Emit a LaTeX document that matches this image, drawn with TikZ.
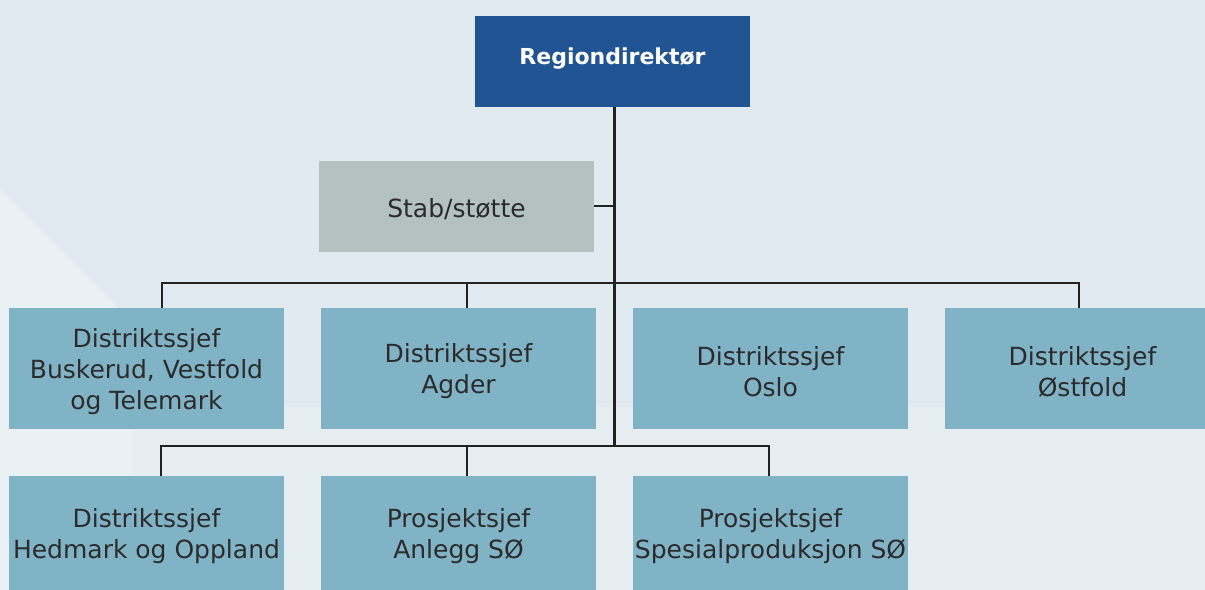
\documentclass[tikz,border=0pt]{standalone}
\usepackage{fontspec}
\setmainfont{DejaVu Sans}
\usetikzlibrary{calc}
\definecolor{bgtop}{HTML}{E1EAF1}
\definecolor{bgmid}{HTML}{E6EEF2}
\definecolor{bglight}{HTML}{E9F1F4}
\definecolor{topblue}{HTML}{215493}
\definecolor{stabgrey}{HTML}{B3C1C1}
\definecolor{distblue}{HTML}{81B3C6}
\definecolor{txt}{HTML}{2B2B2B}
\definecolor{wire}{HTML}{222222}
\tikzset{
  boxbase/.style={rectangle, inner sep=0pt, minimum width=275bp},
  boxtext/.style={inner sep=0pt, align=center, yshift=-3bp,
    font=\fontsize{25bp}{31bp}\selectfont, text=txt},
  topbox/.style={boxbase, fill=topblue, minimum height=91bp, text=white, align=center,
    font=\fontsize{22bp}{26bp}\selectfont\bfseries, text height=17bp, text depth=10bp},
  stabbox/.style={boxbase, fill=stabgrey, minimum height=91bp},
  distbox/.style={boxbase, fill=distblue, minimum height=121bp},
  lowbox/.style={boxbase, fill=distblue, minimum height=114bp},
  wireline/.style={draw=wire, line width=2.7bp, line join=miter}
}
\begin{document}
\begin{tikzpicture}[x=1bp, y=-1bp]
\useasboundingbox (0,0) rectangle (1205,590);
% background
\fill[bgtop] (0,0) rectangle (1205,590);
\fill[bgmid] (132,407) rectangle (1205,590);
\fill[bglight] (0,190) -- (132,322) -- (132,590) -- (0,590) -- cycle;

% boxes
\node[topbox] (rd) at (612.5,61.5) {Regiondirektør};
\node[stabbox] (stab) at (456.5,206.5) {};

\node[distbox] (d1) at (146.5,368.5) {};
\node[distbox] (d2) at (458.5,368.5) {};
\node[distbox] (d3) at (770.5,368.5) {};
\node[distbox] (d4) at (1082.5,368.5) {};

\node[lowbox] (d5) at (146.5,533) {};
\node[lowbox] (p1) at (458.5,533) {};
\node[lowbox] (p2) at (770.5,533) {};

% box texts
\node[boxtext] (stabt) at (stab.center) {Stab/støtte};
\node[boxtext] (d1t) at (d1.center) {Distriktssjef\\Buskerud, Vestfold\\og Telemark};
\node[boxtext] (d2t) at (d2.center) {Distriktssjef\\Agder};
\node[boxtext] (d3t) at (d3.center) {Distriktssjef\\Oslo};
\node[boxtext] (d4t) at (d4.center) {Distriktssjef\\Østfold};
\node[boxtext] (d5t) at (d5.center) {Distriktssjef\\Hedmark og Oppland};
\node[boxtext] (p1t) at (p1.center) {Prosjektsjef\\Anlegg SØ};
\node[boxtext] (p2t) at (p2.center) {Prosjektsjef\\Spesialproduksjon SØ};

% connector coordinates
\coordinate (tr) at (614.5,446);
\coordinate (js) at (614.5,206);
\coordinate (u1) at (162,283);
\coordinate (u2) at (467,283);
\coordinate (u4) at (1079,283);
\coordinate (l1) at (161,446);
\coordinate (l2) at (467,446);
\coordinate (l3) at (769,446);

% connectors
\draw[wireline] (rd.south -| tr) -- (tr);
\draw[wireline] (stab.east |- js) -- (js);
\draw[wireline] (d1.north -| u1) -- (u1) -- (u4) -- (d4.north -| u4);
\draw[wireline] (d2.north -| u2) -- (u2);
\draw[wireline] (d5.north -| l1) -- (l1) -- (l3) -- (p2.north -| l3);
\draw[wireline] (p1.north -| l2) -- (l2);
\end{tikzpicture}
\end{document}
